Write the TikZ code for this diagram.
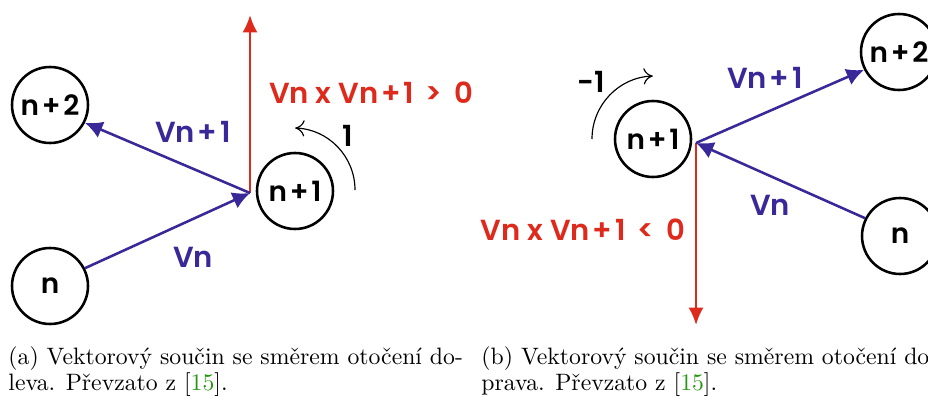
\documentclass[tikz,border=0pt]{standalone}
\usepackage{fontspec}
\newfontfamily\pop{Poppins}[BoldFont={Poppins SemiBold}]
\usetikzlibrary{arrows.meta}
\definecolor{vred}{RGB}{222,42,28}
\definecolor{vblue}{RGB}{56,40,152}
\definecolor{citeg}{RGB}{40,150,20}
\newcommand{\pl}{\kern1.2pt+\kern1.2pt}
\tikzset{
  pt/.style={circle,draw=black,line width=1.1pt,minimum size={76*0.43pt},inner sep=0pt,font=\pop\bfseries\fontsize{12}{14}\selectfont},
  vec/.style={draw=vblue,line width=1.1pt,-{Latex[length=7.5pt,width=7.5pt]}},
  cross/.style={draw=vred,line width=1pt,-{Latex[length=7.5pt,width=6.5pt]}},
  rot/.style={draw=black,line width=0.5pt,-{To[length=4pt,width=7pt]}},
  blab/.style={text=vblue,font=\pop\bfseries\fontsize{12.5}{14}\selectfont,inner sep=0pt},
  rlab/.style={text=vred,font=\pop\bfseries\fontsize{12.5}{14}\selectfont,inner sep=0pt},
  klab/.style={text=black,font=\pop\bfseries\fontsize{12.5}{14}\selectfont,inner sep=0pt},
  captext/.style={anchor=north west,align=left,inner sep=0pt,font=\fontsize{10.2}{11.4}\selectfont}
}
\begin{document}
\begin{tikzpicture}[x=0.43pt,y=-0.43pt]
\useasboundingbox (0,0) rectangle (928,396);
% left panel
\node[pt] (Ln2) at (50,105) {n\pl2};
\node[pt] (Ln) at (50,286) {n};
\node[pt] (Ln1) at (295,191) {n\pl1};
\coordinate (Lo) at (250,193);
\coordinate (Lup) at (250,15);
\draw[cross] (Lo) -- (Lup);
\draw[vec] (Ln.27) -- (Lo);
\draw[vec] (Lo) -- (Ln2.-27);
\node[blab] (LVn1) at (193,132) {Vn\pl1};
\node[blab] (LVn) at (193,257) {Vn};
\node[rlab] (Lres) at (371,93) {Vn x Vn\pl1 \,>\, 0};
\node[klab] (Lone) at (348,136) {1};
\coordinate (Lrs) at (355,190);
\draw[rot] (Lrs) arc[start angle=0,end angle=-88,radius=62];
% right panel
\node[pt] (Rn1) at (653,139) {n\pl1};
\node[pt] (Rn2) at (899,52) {n\pl2};
\node[pt] (Rn) at (900,236) {n};
\coordinate (Ro) at (696,143);
\coordinate (Rdown) at (696,325);
\draw[cross] (Ro) -- (Rdown);
\draw[vec] (Ro) -- (Rn2.-153);
\draw[vec] (Rn.153) -- (Ro);
\node[blab] (RVn1) at (765,78) {Vn\pl1};
\node[blab] (RVn) at (770,205) {Vn};
\node[rlab] (Rres) at (583,230) {Vn x Vn\pl1 \,<\, 0};
\node[klab] (Rone) at (591,82) {-1};
\coordinate (Rrs) at (592,139);
\draw[rot] (Rrs) arc[start angle=180,end angle=268,radius=63];
% captions
\node[captext] (capa) at (8,346) {(a) Vektorový součin se směrem otočení do-\\leva. Převzato z [{\color{citeg}15}].};
\node[captext] (capb) at (481,346) {(b) Vektorový součin se směrem otočení do-\\prava. Převzato z [{\color{citeg}15}].};
\end{tikzpicture}
\end{document}
